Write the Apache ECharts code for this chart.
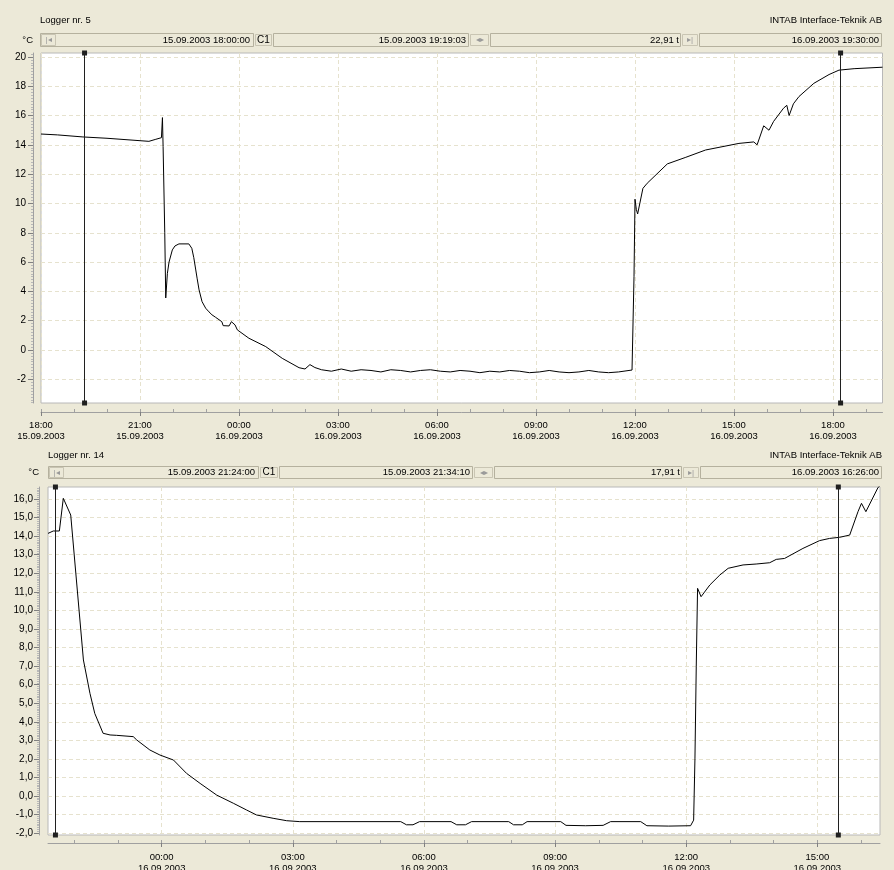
<!DOCTYPE html>
<html><head><meta charset="utf-8">
<script src="https://cdn.jsdelivr.net/npm/echarts@6/dist/echarts.min.js"></script>
<style>html,body{margin:0;padding:0;background:#ECE9D8;overflow:hidden}#c{width:894px;height:870px}</style>
</head><body><div id="c"></div>
<script>
// hours since 15.09.2003 00:00
const topHours = [18,18.5,19.27,20,20.97,21.27,21.48,21.65,21.68,21.70,21.75,21.78,21.83,21.88,21.98,22.06,22.18,22.48,22.57,22.63,22.69,22.73,22.79,22.88,22.99,23.09,23.18,23.29,23.48,23.52,23.70,23.77,23.88,23.95,24.30,24.81,25.31,25.82,26.0,26.15,26.3,26.5,26.8,27.1,27.4,27.7,28.0,28.3,28.6,28.9,29.2,29.5,29.8,30.1,30.4,30.7,31.0,31.3,31.6,31.9,32.2,32.5,32.8,33.1,33.4,33.7,34.0,34.3,34.6,34.9,35.2,35.5,35.91,35.95,35.97,36.00,36.04,36.08,36.24,36.37,36.98,37.54,38.14,39.15,39.6,39.7,39.9,40.06,40.2,40.5,40.6,40.67,40.8,40.97,41.42,41.88,42.18,42.64,43.5];
const topTemps = [14.74,14.68,14.54,14.45,14.29,14.24,14.38,14.49,15.86,13.88,8.0,3.55,5.23,6.0,6.83,7.1,7.24,7.24,6.94,6.3,5.46,4.9,4.1,3.3,2.85,2.6,2.4,2.23,1.93,1.66,1.64,1.93,1.71,1.37,0.8,0.23,-0.57,-1.21,-1.3,-1.0,-1.2,-1.35,-1.45,-1.3,-1.45,-1.35,-1.4,-1.5,-1.35,-1.4,-1.5,-1.4,-1.35,-1.45,-1.5,-1.4,-1.45,-1.55,-1.45,-1.5,-1.4,-1.45,-1.55,-1.5,-1.4,-1.5,-1.55,-1.5,-1.4,-1.5,-1.55,-1.5,-1.37,-1.3,5,10.29,9.6,9.28,11.03,11.38,12.70,13.15,13.65,14.1,14.2,14.0,15.3,15.0,15.6,16.5,16.7,16.0,16.8,17.3,18.2,18.8,19.1,19.2,19.3];
const botHours = [21.4,21.52,21.66,21.75,21.92,22.21,22.36,22.47,22.66,22.82,22.97,23.35,23.43,23.73,23.96,24.27,24.57,24.88,25.26,25.64,25.94,26.17,26.55,26.86,27.16,29.47,29.6,29.75,29.9,30.62,30.75,30.95,31.09,31.94,32.05,32.25,32.36,33.13,33.25,33.7,34.1,34.27,34.96,35.1,35.6,36.1,36.17,36.2,36.23,36.26,36.34,36.54,36.77,36.96,37.3,37.6,37.91,38.06,38.25,38.67,39.05,39.28,39.51,39.74,39.93,40.01,40.11,40.39,40.43];
const botTemps = [14.15,14.28,14.28,16.04,15.14,7.33,5.53,4.45,3.38,3.29,3.27,3.2,3.02,2.48,2.21,1.94,1.22,0.68,0.05,-0.39,-0.75,-1.02,-1.2,-1.33,-1.38,-1.38,-1.55,-1.55,-1.38,-1.38,-1.55,-1.55,-1.38,-1.38,-1.55,-1.55,-1.38,-1.38,-1.58,-1.6,-1.58,-1.38,-1.38,-1.6,-1.62,-1.6,-1.3,2.0,7.0,11.19,10.74,11.37,11.91,12.27,12.45,12.5,12.57,12.75,12.8,13.34,13.76,13.88,13.94,14.06,15.32,15.77,15.32,16.63,16.7];
const topXTicks = [18,21,24,27,30,33,36,39,42];
const botXTicks = [24,27,30,33,36,39];
const topYTicks = [-2,0,2,4,6,8,10,12,14,16,18,20];
const botYTicks = [-2,-1,0,1,2,3,4,5,6,7,8,9,10,11,12,13,14,15,16];
const topCursors = [19.3175, 42.2275];
const botCursors = [21.5694, 39.4794];
const topBar = {title:'Logger nr. 5', start:'15.09.2003 18:00:00', c1:'15.09.2003 19:19:03', span:'22,91 t', end:'16.09.2003 19:30:00'};
const botBar = {title:'Logger nr. 14', start:'15.09.2003 21:24:00', c1:'15.09.2003 21:34:10', span:'17,91 t', end:'16.09.2003 16:26:00'};
const company = 'INTAB Interface-Teknik AB';
const unit = '°C';

const FONT = "'Liberation Sans',Arial,sans-serif";
const FS = 9.5;
function hourRange(a,b){const r=[];for(let h=Math.ceil(a);h<=b;h++)r.push(h);return r;}
function fmtTime(v){
  const day = 15 + Math.floor(v/24 + 1e-9);
  let hh = Math.floor((v%24)+1e-9), mm = Math.round((v - Math.floor(v+1e-9))*60);
  return String(hh).padStart(2,'0')+':'+String(mm).padStart(2,'0')+'\n'+day+'.09.2003';
}
const zip=(a,b)=>a.map((x,i)=>[x,b[i]]);

function xAxes(grid,min,max,ticks,off,margin){
  return [{
    type:'value',gridIndex:grid,min:min,max:max,position:'bottom',offset:off,
    axisLine:{show:true,onZero:false,lineStyle:{color:'#A0A0A0',width:1}},
    axisTick:{show:true,customValues:ticks,length:4,inside:false,lineStyle:{color:'#808080'}},
    axisLabel:{show:true,customValues:ticks,formatter:fmtTime,color:'#000',fontFamily:FONT,fontSize:FS,lineHeight:11,margin:margin},
    splitLine:{show:true,lineStyle:{color:'#E6E2CE',type:[4,3],width:1}}
  },{
    type:'value',gridIndex:grid,min:min,max:max,position:'bottom',offset:off,
    axisLine:{show:false,onZero:false},
    axisTick:{show:true,customValues:hourRange(min,max),length:3,inside:true,lineStyle:{color:'#A0A0A0'}},
    axisLabel:{show:false},splitLine:{show:false}
  }];
}
function yAxis(grid,min,max,split,ticks,off,margin,fmt,minor){
  return {type:'value',gridIndex:grid,min:min,max:max,splitNumber:split,offset:off,
    axisLine:{show:true,onZero:false,lineStyle:{color:'#A0A0A0'}},
    axisTick:{show:true,customValues:ticks,length:5,lineStyle:{color:'#808080'}},
    minorTick:{show:true,splitNumber:minor,length:2,lineStyle:{color:'#B8B8B8'}},
    axisLabel:{customValues:ticks,formatter:fmt,color:'#000',fontFamily:FONT,fontSize:FS+0.5,margin:margin},
    splitLine:{show:true,lineStyle:{color:'#E6E2CE',type:[4,3],width:1}},
    minorSplitLine:{show:false}};
}
function series(xi,yi,hours,temps,cursors){
  return {type:'line',xAxisIndex:xi,yAxisIndex:yi,data:zip(hours,temps),showSymbol:false,symbol:'none',
    lineStyle:{color:'#000',width:1},animation:false,silent:true,
    markLine:{silent:true,animation:false,symbol:['rect','rect'],symbolSize:5,label:{show:false},
      lineStyle:{color:'#202020',width:1,type:'solid'},itemStyle:{color:'#000'},emphasis:{disabled:true},
      data:cursors.map(c=>({xAxis:c}))}};
}
function txt(x,y,t,align,color,size){return {type:'text',silent:true,style:{text:t,x:x,y:y,fill:color||'#000',font:(size||FS)+'px '+FONT,textAlign:align||'left',textVerticalAlign:'middle'}};}
function rect(x,y,w,h,fill,stroke){return {type:'rect',silent:true,shape:{x:x,y:y,width:w,height:h},style:{fill:fill,stroke:stroke,lineWidth:1}};}
function bar(p,yT,yB,hB,seg,unitRight){
  const els=[], cy=yB+hB/2;
  els.push(txt(seg[0],yT,p.title,'left'));
  els.push(txt(882,yT,company,'right'));
  els.push(txt(unitRight,cy,unit,'right'));
  const boxes=[[seg[0],seg[1]],[seg[2],seg[3]],[seg[4],seg[5]],[seg[6],882]];
  boxes.forEach(b=>els.push(rect(b[0]+0.5,yB+0.5,b[1]-b[0]-1,hB-1,'#ECE9D8','#B5B19E')));
  const btn=[[seg[0],seg[0]+17,'|◂','#999'],[seg[1],seg[2],'C1','#000'],[seg[3],seg[4],'◂▸','#999'],[seg[5],seg[6],'▸|','#999']];
  btn.forEach(b=>{els.push(rect(b[0]+1.5,yB+1.5,b[1]-b[0]-3,hB-3,'#ECE9D8','#C9C5B3'));els.push(txt((b[0]+b[1])/2,cy,b[2],'center',b[3],b[2]==='C1'?FS+0.5:8));});
  els.push(txt(seg[1]-4,cy,p.start,'right'));
  els.push(txt(seg[3]-3,cy,p.c1,'right'));
  els.push(txt(seg[5]-2,cy,p.span,'right'));
  els.push(txt(879,cy,p.end,'right'));
  return els;
}

const chart = echarts.init(document.getElementById('c'),null,{renderer:'canvas'});
chart.setOption({
  animation:false,backgroundColor:'#ECE9D8',
  textStyle:{fontFamily:FONT},
  grid:[
    {left:41,top:53,right:11.5,height:350,show:true,backgroundColor:'#FFFFFF',borderColor:'#B8B8B8',borderWidth:1,containLabel:false,outerBoundsMode:'none'},
    {left:48,top:487,right:14,height:348,show:true,backgroundColor:'#FFFFFF',borderColor:'#B8B8B8',borderWidth:1,containLabel:false,outerBoundsMode:'none'}
  ],
  xAxis:[...xAxes(0,18,43.5,topXTicks,9,8),...xAxes(1,21.4,40.4333,botXTicks,8,9)],
  yAxis:[
    yAxis(0,-3.62,20.27,12,topYTicks,8,7,v=>String(Math.round(v)),10),
    yAxis(1,-2.1,16.65,18,botYTicks,9,6,v=>v.toFixed(1).replace('.',','),10)
  ],
  series:[series(0,0,topHours,topTemps,topCursors),series(2,1,botHours,botTemps,botCursors)],
  graphic:[...bar(topBar,20,33,14,[40,254,273,469,490,681,699],33),...bar(botBar,455,466,13,[48,259,279,473,494,682,700],39)]
});
</script></body></html>
